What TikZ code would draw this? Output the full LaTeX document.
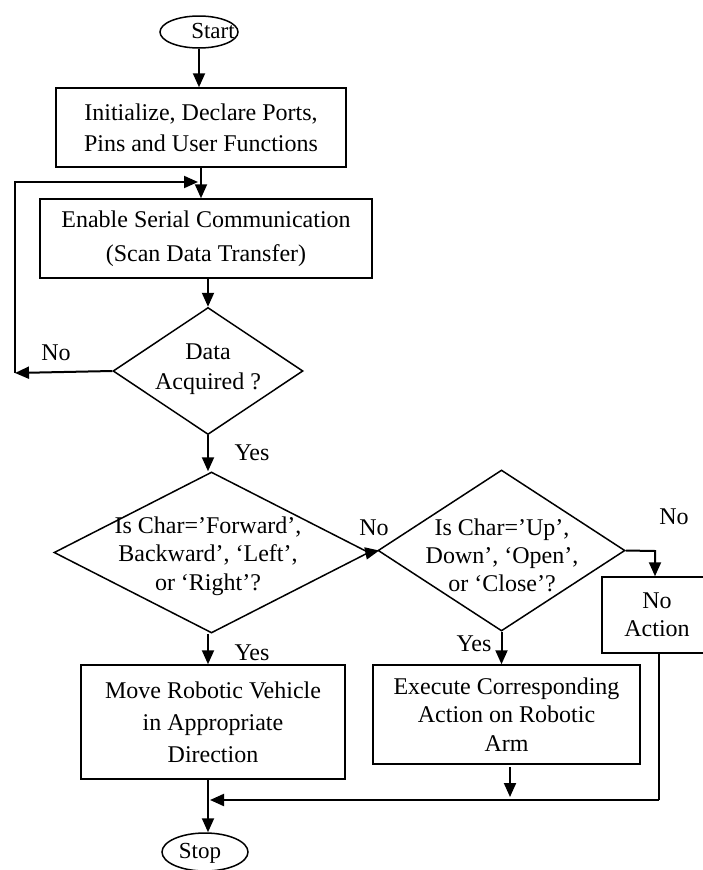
\documentclass[tikz,border=0pt]{standalone}
\usepackage{fontspec}
\setmainfont{Liberation Serif}
\usetikzlibrary{shapes.geometric,arrows.meta}
\tikzset{
  base/.style={draw, line width=1.5pt, inner sep=0pt, align=center},
  procbox/.style={base, rectangle},
  term/.style={base, ellipse},
  decision/.style={base, diamond},
  conn/.style={line width=2pt},
  arr/.style={conn, -{Triangle[length=14pt,width=12pt]}},
  lbl/.style={font={\fontsize{24}{28}\selectfont}, inner sep=0pt},
  txt/.style={align=center, inner sep=0pt},
}
\begin{document}
\begin{tikzpicture}[x=1pt,y=-1pt]
\useasboundingbox (0,0) rectangle (702,870);
% terminals
\node[term, minimum width=78pt, minimum height=32pt] (start) at (199,32) {};
\node[txt, font={\fontsize{23}{28}\selectfont}] (starttxt) at (213,31) {Start};
\node[term, minimum width=86pt, minimum height=38pt] (stop) at (205,852) {};
\node[txt, font={\fontsize{23}{28}\selectfont}] (stoptxt) at (200,853) {Stop};
% process boxes
\node[procbox, minimum width=290pt, minimum height=79pt, font={\fontsize{24}{31}\selectfont}] (init) at (201,127.5) {Initialize, Declare Ports,\\Pins and User Functions};
\node[procbox, minimum width=332pt, minimum height=79pt, font={\fontsize{24}{34}\selectfont}] (enable) at (206,238.5) {Enable Serial Communication\\(Scan Data Transfer)};
\node[procbox, minimum width=264pt, minimum height=114pt, font={\fontsize{24}{32}\selectfont}] (move) at (213,722) {Move Robotic Vehicle\\in Appropriate\\Direction};
\node[procbox, minimum width=267pt, minimum height=99pt, font={\fontsize{24}{28.5}\selectfont}] (exec) at (506.5,714.5) {Execute Corresponding\\Action on Robotic\\Arm};
\node[procbox, minimum width=110pt, minimum height=76pt, font={\fontsize{24}{28}\selectfont}] (noact) at (657,615) {No\\Action};
% decisions
\node[decision, minimum width=190pt, minimum height=127pt] (data) at (208,371) {};
\node[txt, font={\fontsize{24}{30}\selectfont}] (datatxt) at (208,369) {Data\\Acquired ?};
\node[decision, minimum width=315pt, minimum height=161pt] (fwd) at (211.5,552.5) {};
\node[txt, font={\fontsize{24}{28.5}\selectfont}] (fwdtxt) at (208,556) {Is Char=’Forward’,\\Backward’, ‘Left’,\\or ‘Right’?};
\node[decision, minimum width=247pt, minimum height=161pt] (updn) at (501.5,550.5) {};
\node[txt, font={\fontsize{24}{28}\selectfont}] (updntxt) at (502,555) {Is Char=’Up’,\\Down’, ‘Open’,\\or ‘Close’?};
% helper coordinates
\coordinate (loopL) at (15,373);
\coordinate (loopT) at (198,182);
\coordinate (rightNo) at (655,551);
\coordinate (joinR) at (659,800);
\coordinate (joinL) at (210,800);
\coordinate (execA) at (510,767);
\coordinate (execB) at (510,797);
% connectors
\draw[arr] (start.south) -- (start.south |- init.north);
\draw[arr] (init.south) -- (init.south |- enable.north);
\draw[arr] (data.north |- enable.south) -- (data.north);
\draw[arr] (data.west) -- (loopL);
\draw[arr] (loopL) -- (loopL |- loopT) -- (loopT);
\draw[arr] (data.south) -- (data.south |- fwd.north);
\draw[arr] (fwd.east) -- ([xshift=2pt]updn.west);
\draw[arr] (updn.east) -- (rightNo) -- (rightNo |- noact.north);
\draw[arr] (fwd.south -| data.south) -- (data.south |- move.north);
\draw[arr] (updn.south) -- (updn.south |- exec.north);
\draw[arr] (execA) -- (execB);
\draw[conn] (noact.south -| joinR) -- (joinR);
\draw[arr] (joinR) -- (joinL);
\draw[arr] (data.south |- move.south) -- (data.south |- stop.north);
% labels
\node[lbl] (l1) at (56,353) {No};
\node[lbl] (l2) at (252,453) {Yes};
\node[lbl] (l3) at (374,528) {No};
\node[lbl] (l4) at (674,517) {No};
\node[lbl] (l5) at (252,653) {Yes};
\node[lbl] (l6) at (474,644) {Yes};
\end{tikzpicture}
\end{document}
